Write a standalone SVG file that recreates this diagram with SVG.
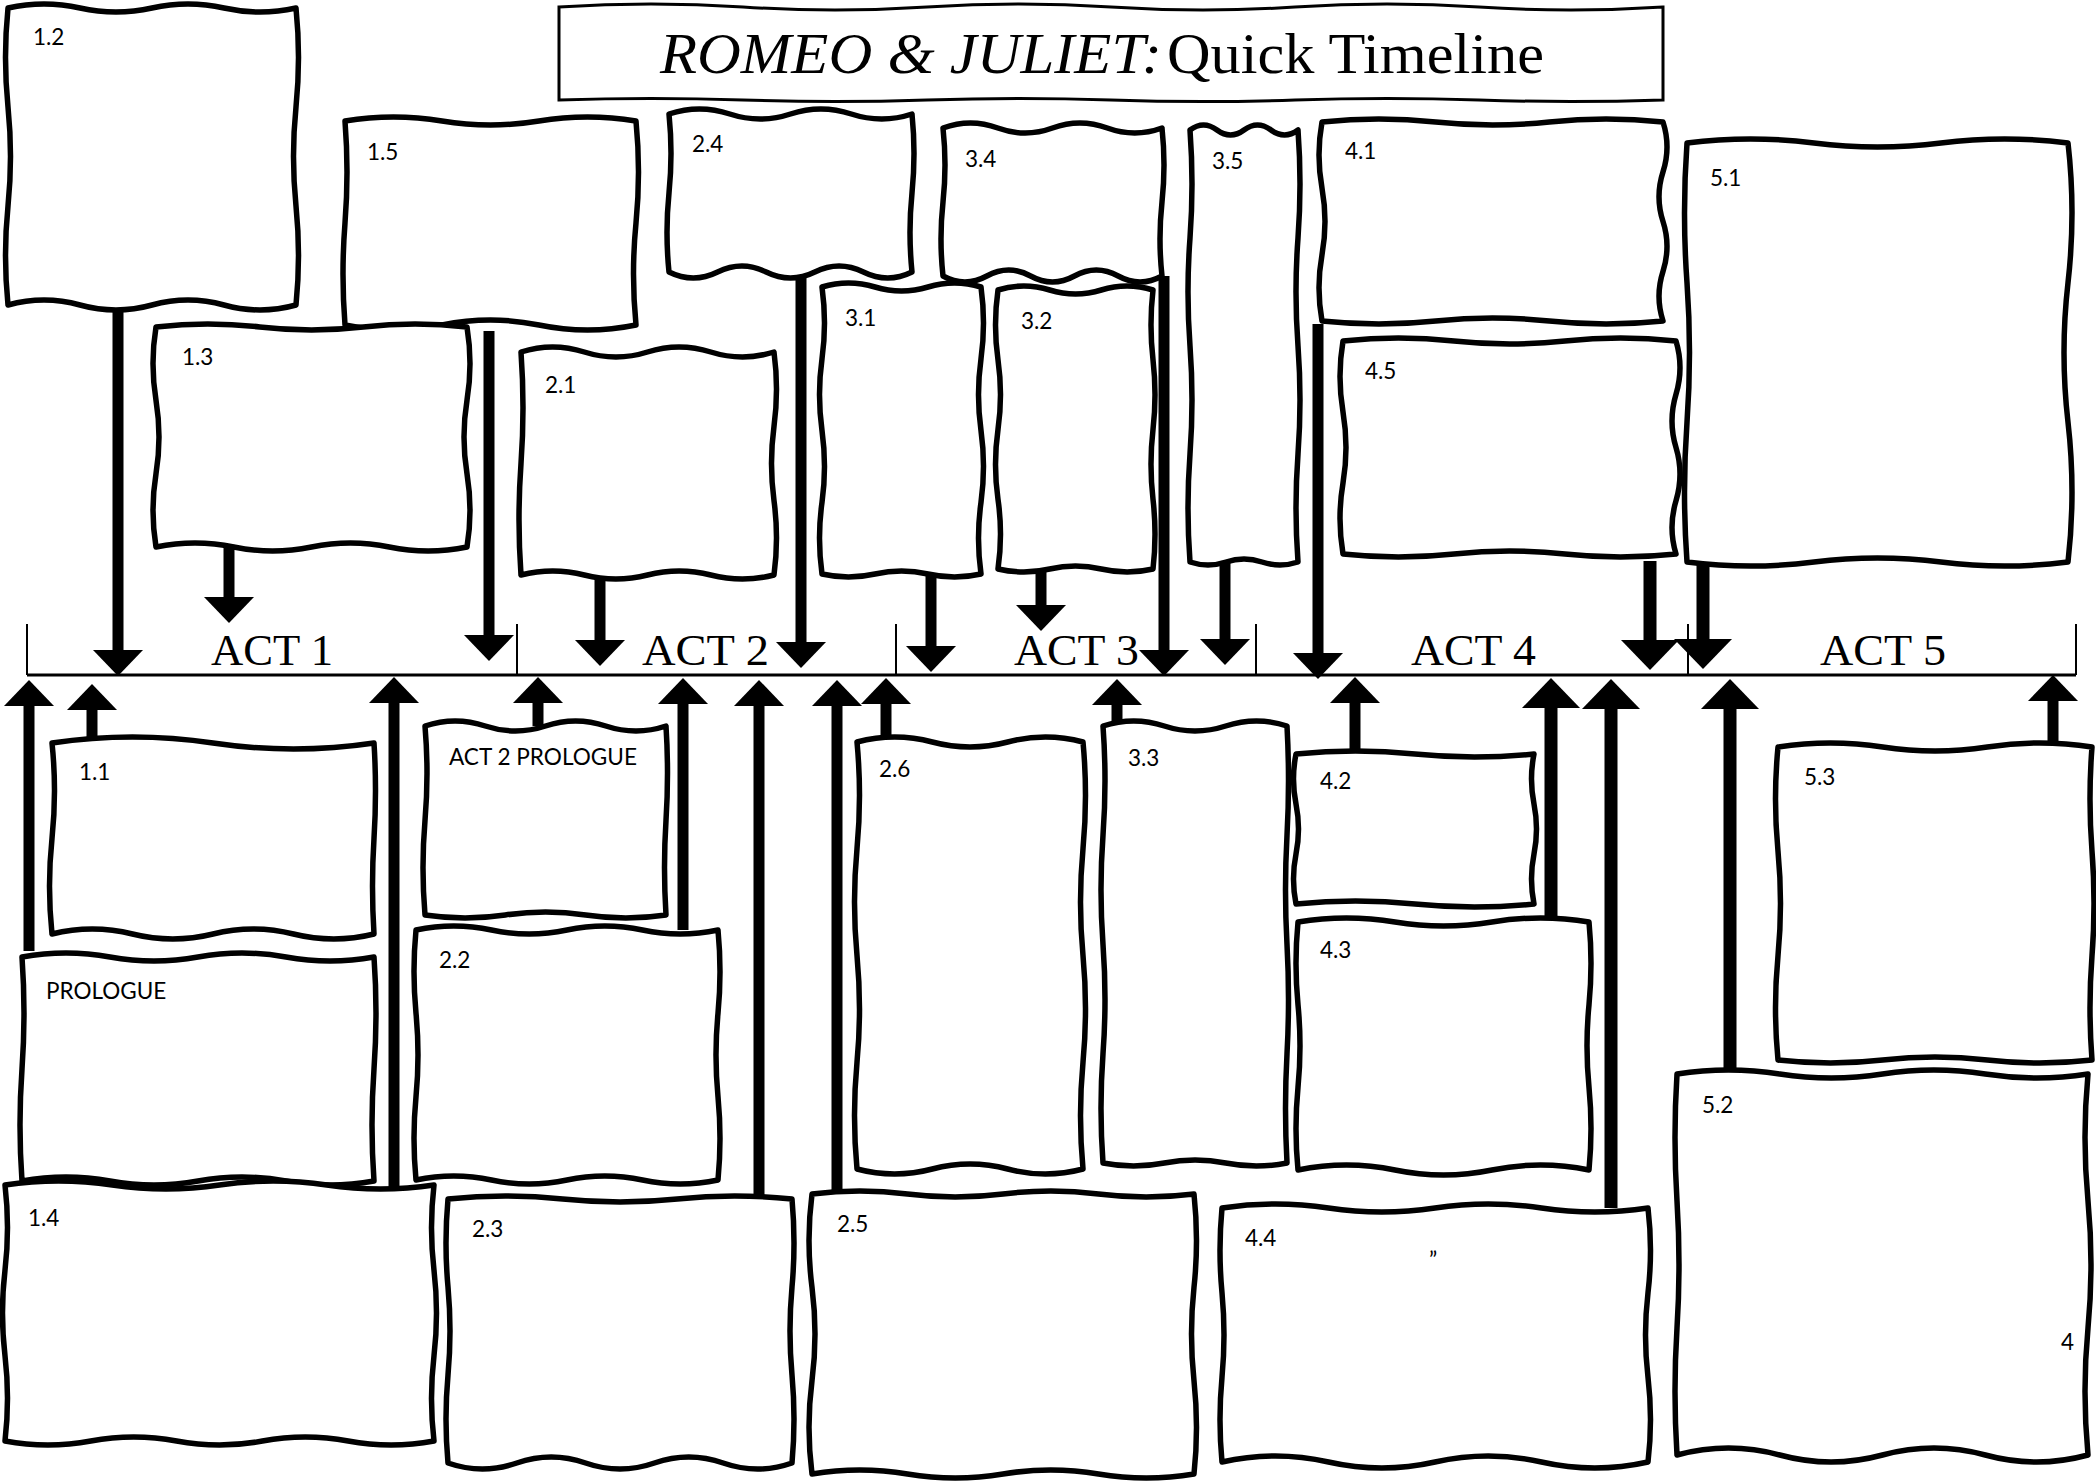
<svg xmlns="http://www.w3.org/2000/svg" width="2096" height="1481" viewBox="0 0 2096 1481">
<style>
.box{fill:#fff;stroke:#000;stroke-width:5.5;stroke-linejoin:round}
.ttl{fill:#fff;stroke:#000;stroke-width:3}
.lbl{font-family:Lato,"Open Sans",sans-serif;font-size:22.5px;fill:#000}
.act{font-family:"Liberation Serif","Times New Roman",serif;font-size:44px;fill:#000}
.title{font-family:"Liberation Serif","Times New Roman",serif;font-size:58px;fill:#000}
.ar{stroke:#000;stroke-width:11;fill:none;marker-end:url(#ah)}
.arL{stroke:#000;stroke-width:13;fill:none;marker-end:url(#ahL)}
.tl{stroke:#000;stroke-width:3;fill:none}
.tk{stroke:#000;stroke-width:2;fill:none}
</style>
<defs>
<marker id="ah" markerUnits="userSpaceOnUse" viewBox="0 0 26 50" refX="0" refY="25" markerWidth="26" markerHeight="50" orient="auto"><path d="M0,0 L26,25 L0,50 Z" fill="#000"/></marker>
<marker id="ahL" markerUnits="userSpaceOnUse" viewBox="0 0 30 58" refX="0" refY="29" markerWidth="30" markerHeight="58" orient="auto"><path d="M0,0 L30,29 L0,58 Z" fill="#000"/></marker>
</defs>
<rect width="2096" height="1481" fill="#fff"/>

<g id="title">
<path class="ttl" d="M559,7 Q651,1 743,7 T927,7 T1111,7 T1295,7 T1479,7 T1663,7 L1663,100 Q1571,103 1479,100 T1295,100 T1111,100 T927,100 T743,100 T559,100 Z"/>
<text class="title" x="660" y="73" font-style="italic" textLength="502" lengthAdjust="spacingAndGlyphs">ROMEO &amp; JULIET:</text>
<text class="title" x="1167" y="73" textLength="377" lengthAdjust="spacingAndGlyphs">Quick Timeline</text>
</g>

<g id="timeline">
<line class="tl" x1="27" y1="675" x2="2076" y2="675"/>
<line class="tk" x1="27" y1="624" x2="27" y2="675"/>
<line class="tk" x1="517" y1="624" x2="517" y2="675"/>
<line class="tk" x1="896" y1="624" x2="896" y2="675"/>
<line class="tk" x1="1256" y1="624" x2="1256" y2="675"/>
<line class="tk" x1="1688" y1="624" x2="1688" y2="675"/>
<line class="tk" x1="2076" y1="624" x2="2076" y2="675"/>
<text class="act" x="211" y="665" textLength="122" lengthAdjust="spacingAndGlyphs">ACT 1</text>
<text class="act" x="642" y="665" textLength="127" lengthAdjust="spacingAndGlyphs">ACT 2</text>
<text class="act" x="1014" y="665" textLength="125" lengthAdjust="spacingAndGlyphs">ACT 3</text>
<text class="act" x="1411" y="665" textLength="125" lengthAdjust="spacingAndGlyphs">ACT 4</text>
<text class="act" x="1820" y="665" textLength="126" lengthAdjust="spacingAndGlyphs">ACT 5</text>
</g>

<g id="connectors">
<line class="ar" x1="118" y1="297" x2="118" y2="650"/>
<line class="ar" x1="229" y1="548" x2="229" y2="597"/>
<line class="ar" x1="489" y1="331" x2="489" y2="635"/>
<line class="ar" x1="600" y1="575" x2="600" y2="640"/>
<line class="ar" x1="801" y1="272" x2="801" y2="642"/>
<line class="ar" x1="931" y1="574" x2="931" y2="646"/>
<line class="ar" x1="1041" y1="569" x2="1041" y2="605"/>
<line class="ar" x1="1164" y1="276" x2="1164" y2="650"/>
<line class="ar" x1="1225" y1="562" x2="1225" y2="639"/>
<line class="ar" x1="1318" y1="324" x2="1318" y2="653"/>
<line class="arL" x1="1650" y1="561" x2="1650" y2="640"/>
<line class="arL" x1="1703" y1="562" x2="1703" y2="639"/>
<line class="ar" x1="29" y1="951" x2="29" y2="706"/>
<line class="ar" x1="92" y1="740" x2="92" y2="710"/>
<line class="ar" x1="394" y1="1187" x2="394" y2="703"/>
<line class="ar" x1="538" y1="726" x2="538" y2="703"/>
<line class="ar" x1="683" y1="930" x2="683" y2="704"/>
<line class="ar" x1="759" y1="1199" x2="759" y2="706"/>
<line class="ar" x1="837" y1="1194" x2="837" y2="706"/>
<line class="ar" x1="886" y1="742" x2="886" y2="704"/>
<line class="ar" x1="1117" y1="726" x2="1117" y2="705"/>
<line class="ar" x1="1355" y1="754" x2="1355" y2="703"/>
<line class="arL" x1="1551" y1="922" x2="1551" y2="708"/>
<line class="arL" x1="1611" y1="1208" x2="1611" y2="709"/>
<line class="arL" x1="1730" y1="1074" x2="1730" y2="709"/>
<line class="ar" x1="2053" y1="747" x2="2053" y2="701"/>
</g>

<g id="n1_2"><path class="box" d="M8,8 Q44,0 80,8 T152,8 T224,8 T296,8 Q301,57.5 296,107 T296,206 T296,305 Q260,315 224,305 T152,305 T80,305 T8,305 Q3,255.5 8,206 T8,107 T8,8Z"/><text class="lbl" x="33" y="45">1.2</text></g>
<g id="n1_5"><path class="box" d="M345,121 Q393.5,113 442,121 T539,121 T636,121 Q641,172 636,223 T636,325 Q587.5,335 539,325 T442,325 T345,325 Q341,274 345,223 T345,121Z"/><text class="lbl" x="367" y="160">1.5</text></g>
<g id="n1_3"><path class="box" d="M156,327 Q207.8,321 259.7,327 T363.3,327 T467,327 Q473,363.7 467,400.3 T467,473.7 T467,547 Q428.1,555 389.3,547 T311.5,547 T233.8,547 T156,547 Q150,510.3 156,473.7 T156,400.3 T156,327Z"/><text class="lbl" x="182" y="365">1.3</text></g>
<g id="n2_1"><path class="box" d="M521,352 Q552.6,342 584.3,352 T647.5,352 T710.8,352 T774,352 Q779,389.2 774,426.3 T774,500.7 T774,575 Q742.4,583 710.8,575 T647.5,575 T584.3,575 T521,575 Q517,519.3 521,463.5 T521,352Z"/><text class="lbl" x="545" y="393">2.1</text></g>
<g id="n2_4"><path class="box" d="M669,114 Q699.4,104 729.8,114 T790.5,114 T851.3,114 T912,114 Q916,153.5 912,193 T912,272 Q887.7,284 863.4,272 T814.8,272 T766.2,272 T717.6,272 T669,272 Q665,232.5 669,193 T669,114Z"/><text class="lbl" x="692" y="152">2.4</text></g>
<g id="n3_4"><path class="box" d="M943,128 Q970.4,118 997.8,128 T1052.5,128 T1107.3,128 T1162,128 Q1166,165 1162,202 T1162,276 Q1140.1,288 1118.2,276 T1074.4,276 T1030.6,276 T986.8,276 T943,276 Q939,239 943,202 T943,128Z"/><text class="lbl" x="965" y="167">3.4</text></g>
<g id="n3_1"><path class="box" d="M822,287 Q848.5,279 875,287 T928,287 T981,287 Q986,322.9 981,358.8 T981,430.5 T981,502.3 T981,574 Q954.5,580 928,574 T875,574 T822,574 Q817,538.1 822,502.3 T822,430.5 T822,358.8 T822,287Z"/><text class="lbl" x="845" y="326">3.1</text></g>
<g id="n3_2"><path class="box" d="M998,290 Q1023.8,282 1049.7,290 T1101.3,290 T1153,290 Q1149,324.9 1153,359.8 T1153,429.5 T1153,499.3 T1153,569 Q1127.2,575 1101.3,569 T1049.7,569 T998,569 Q1003,534.1 998,499.3 T998,429.5 T998,359.8 T998,290Z"/><text class="lbl" x="1021" y="329">3.2</text></g>
<g id="n3_5"><path class="box" d="M1190,130 Q1203.5,120 1217,130 T1244,130 T1271,130 T1298,130 Q1302,184 1298,238 T1298,346 T1298,454 T1298,562 Q1280,568 1262,562 T1226,562 T1190,562 Q1186,508 1190,454 T1190,346 T1190,238 T1190,130Z"/><text class="lbl" x="1212" y="169">3.5</text></g>
<g id="n4_1"><path class="box" d="M1322,122 Q1378.8,116 1435.7,122 T1549.3,122 T1663,122 Q1671,146.9 1663,171.8 T1663,221.5 T1663,271.3 T1663,321 Q1606.2,327 1549.3,321 T1435.7,321 T1322,321 Q1316,287.8 1322,254.7 T1322,188.3 T1322,122Z"/><text class="lbl" x="1345" y="159">4.1</text></g>
<g id="n4_5"><path class="box" d="M1343,341 Q1398.5,335 1454,341 T1565,341 T1676,341 Q1684,367.6 1676,394.3 T1676,447.5 T1676,500.8 T1676,554 Q1620.5,560 1565,554 T1454,554 T1343,554 Q1337,518.5 1343,483 T1343,412 T1343,341Z"/><text class="lbl" x="1365" y="379">4.5</text></g>
<g id="n5_1"><path class="box" d="M1687,143 Q1750.5,135 1814,143 T1941,143 T2068,143 Q2076,212.8 2068,282.7 T2068,422.3 T2068,562 Q2004.5,570 1941,562 T1814,562 T1687,562 Q1682,492.2 1687,422.3 T1687,282.7 T1687,143Z"/><text class="lbl" x="1710" y="186">5.1</text></g>

<g id="n1_1"><path class="box" d="M52,743 Q132.5,731 213,743 T374,743 Q377,790.8 374,838.5 T374,934 Q333.8,944 293.5,934 T213,934 T132.5,934 T52,934 Q47,886.3 52,838.5 T52,743Z"/><text class="lbl" x="79" y="780">1.1</text></g>
<g id="n_prologue"><path class="box" d="M22,957 Q66,949 110,957 T198,957 T286,957 T374,957 Q378,1013 374,1069 T374,1181 Q330,1189 286,1181 T198,1181 T110,1181 T22,1181 Q18,1125 22,1069 T22,957Z"/><text class="lbl" x="46" y="999">PROLOGUE</text></g>
<g id="n1_4"><path class="box" d="M5,1185 Q58.6,1177 112.3,1185 T219.5,1185 T326.8,1185 T434,1185 Q429,1227.7 434,1270.3 T434,1355.7 T434,1441 Q391.1,1449 348.2,1441 T262.4,1441 T176.6,1441 T90.8,1441 T5,1441 Q10,1398.3 5,1355.7 T5,1270.3 T5,1185Z"/><text class="lbl" x="28" y="1226">1.4</text></g>
<g id="n_act2_prologue"><path class="box" d="M425,726 Q455.1,716 485.3,726 T545.5,726 T605.8,726 T666,726 Q669,773.3 666,820.5 T666,915 Q625.8,921 585.7,915 T505.3,915 T425,915 Q421,867.8 425,820.5 T425,726Z"/><text class="lbl" x="449" y="765" textLength="188" lengthAdjust="spacingAndGlyphs">ACT 2 PROLOGUE</text></g>
<g id="n2_2"><path class="box" d="M416,930 Q453.8,922 491.5,930 T567,930 T642.5,930 T718,930 Q722,971.7 718,1013.3 T718,1096.7 T718,1180 Q680.3,1188 642.5,1180 T567,1180 T491.5,1180 T416,1180 Q412,1138.3 416,1096.7 T416,1013.3 T416,930Z"/><text class="lbl" x="439" y="968">2.2</text></g>
<g id="n2_3"><path class="box" d="M448,1199 Q505.3,1193 562.7,1199 T677.3,1199 T792,1199 Q796,1243 792,1287 T792,1375 T792,1463 Q757.6,1475 723.2,1463 T654.4,1463 T585.6,1463 T516.8,1463 T448,1463 Q444,1419 448,1375 T448,1287 T448,1199Z"/><text class="lbl" x="472" y="1237">2.3</text></g>
<g id="n2_6"><path class="box" d="M857,742 Q894.7,732 932.3,742 T1007.7,742 T1083,742 Q1088,795.4 1083,848.8 T1083,955.5 T1083,1062.3 T1083,1169 Q1045.3,1179 1007.7,1169 T932.3,1169 T857,1169 Q852,1115.6 857,1062.3 T857,955.5 T857,848.8 T857,742Z"/><text class="lbl" x="879" y="777">2.6</text></g>
<g id="n2_5"><path class="box" d="M812,1194 Q859.8,1188 907.5,1194 T1003,1194 T1098.5,1194 T1194,1194 Q1199,1240.7 1194,1287.3 T1194,1380.7 T1194,1474 Q1146.3,1482 1098.5,1474 T1003,1474 T907.5,1474 T812,1474 Q806,1427.3 812,1380.7 T812,1287.3 T812,1194Z"/><text class="lbl" x="837" y="1232">2.5</text></g>
<g id="n3_3"><path class="box" d="M1103,726 Q1133.7,716 1164.3,726 T1225.7,726 T1287,726 Q1290,780.6 1287,835.3 T1287,944.5 T1287,1053.8 T1287,1163 Q1256.3,1169 1225.7,1163 T1164.3,1163 T1103,1163 Q1099,1108.4 1103,1053.8 T1103,944.5 T1103,835.3 T1103,726Z"/><text class="lbl" x="1128" y="766">3.3</text></g>
<g id="n4_2"><path class="box" d="M1296,754 Q1355.5,748 1415,754 T1534,754 Q1529,779 1534,804 T1534,854 T1534,904 Q1474.5,910 1415,904 T1296,904 Q1291,879 1296,854 T1296,804 T1296,754Z"/><text class="lbl" x="1320" y="789">4.2</text></g>
<g id="n4_3"><path class="box" d="M1298,922 Q1346.5,914 1395,922 T1492,922 T1589,922 Q1593,963.3 1589,1004.7 T1589,1087.3 T1589,1170 Q1540.5,1160 1492,1170 T1395,1170 T1298,1170 Q1294,1128.7 1298,1087.3 T1298,1004.7 T1298,922Z"/><text class="lbl" x="1320" y="958">4.3</text></g>
<g id="n4_4"><path class="box" d="M1222,1208 Q1275.3,1200 1328.5,1208 T1435,1208 T1541.5,1208 T1648,1208 Q1653,1250.3 1648,1292.7 T1648,1377.3 T1648,1462 Q1594.8,1474 1541.5,1462 T1435,1462 T1328.5,1462 T1222,1462 Q1218,1419.7 1222,1377.3 T1222,1292.7 T1222,1208Z"/><text class="lbl" x="1245" y="1246">4.4</text><text class="lbl" x="1429" y="1268">”</text></g>
<g id="n5_2"><path class="box" d="M1677,1074 Q1728.4,1066 1779.8,1074 T1882.5,1074 T1985.3,1074 T2088,1074 Q2082,1137.5 2088,1201 T2088,1328 T2088,1455 Q2036.6,1469 1985.3,1455 T1882.5,1455 T1779.8,1455 T1677,1455 Q1673,1391.5 1677,1328 T1677,1201 T1677,1074Z"/><text class="lbl" x="1702" y="1113">5.2</text><text class="lbl" x="2061" y="1350" font-size="28">4</text></g>
<g id="n5_3"><path class="box" d="M1778,747 Q1830.3,739 1882.7,747 T1987.3,747 T2092,747 Q2088,799.2 2092,851.3 T2092,955.7 T2092,1060 Q2039.7,1066 1987.3,1060 T1882.7,1060 T1778,1060 Q1773,1007.8 1778,955.7 T1778,851.3 T1778,747Z"/><text class="lbl" x="1804" y="785">5.3</text></g>
</svg>
